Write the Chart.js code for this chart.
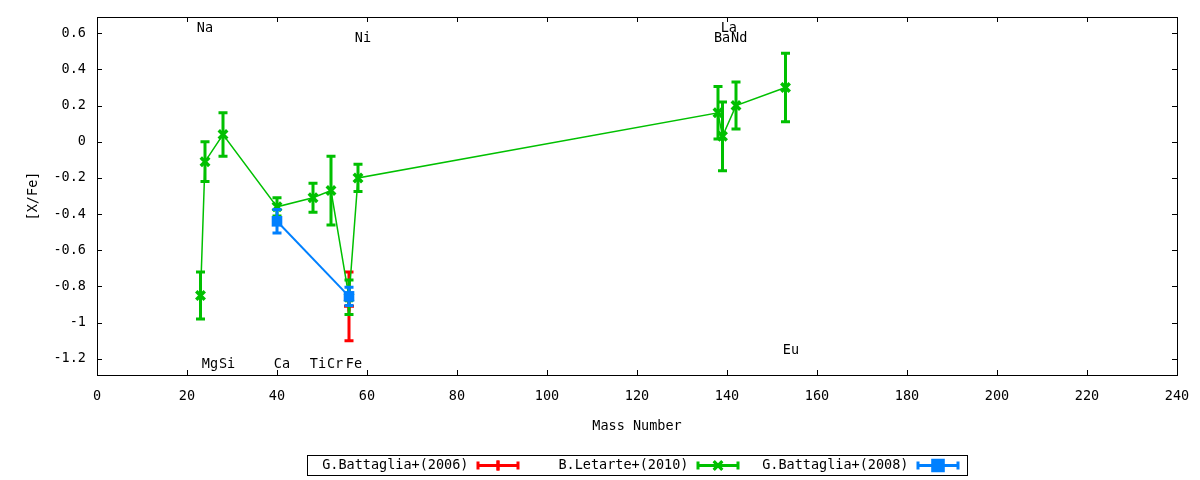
<!DOCTYPE html>
<html>
<head>
<meta charset="utf-8">
<script src="https://cdn.jsdelivr.net/npm/chart.js@4/dist/chart.umd.min.js"></script>
<style>
  html, body { margin: 0; background: #fff; }
  #wrap { width: 1200px; height: 480px; }
</style>
</head>
<body>
<div id="wrap"><canvas id="G1"></canvas></div>
<script>
// G.Battaglia+(2006)
const battaglia06Mass = [56];
const battaglia06XFe  = [-0.91];
const battaglia06Err  = [0.19];

// B.Letarte+(2010)
const letarteMass = [23, 24, 28, 40, 48, 52, 56, 58, 138, 139, 142, 153];
const letarteXFe  = [-0.85, -0.11, 0.04, -0.36, -0.31, -0.27, -0.86, -0.20, 0.16, 0.03, 0.20, 0.30];
const letarteErr  = [0.13, 0.11, 0.12, 0.05, 0.08, 0.19, 0.095, 0.075, 0.145, 0.19, 0.13, 0.19];

// G.Battaglia+(2008)
const battaglia08Mass = [40, 56];
const battaglia08XFe  = [-0.44, -0.855];
const battaglia08Err  = [0.065, 0.05];

// element names written on the plot (data coordinates)
const elementNames  = ['Na', 'Mg', 'Si', 'Ca', 'Ti', 'Cr', 'Fe', 'Ni', 'Ba', 'La', 'Nd', 'Eu'];
const elementLabelX = [24, 25.1, 28.9, 41.1, 49.1, 52.9, 57.1, 59.1, 138.9, 140.4, 142.7, 154.2];
const elementLabelY = [0.624, -1.233, -1.233, -1.233, -1.233, -1.233, -1.233, 0.569, 0.569, 0.624, 0.569, -1.155];

const xTicks = [0, 20, 40, 60, 80, 100, 120, 140, 160, 180, 200, 220, 240];
const yTicks = [-1.2, -1, -0.8, -0.6, -0.4, -0.2, 0, 0.2, 0.4, 0.6];

const FONT = '"DejaVu Sans Mono", monospace';
const RED = '#ff0000', GREEN = '#00c000', BLUE = '#0080ff';

const pts = (xs, ys) => xs.map((x, i) => ({ x: x, y: ys[i] }));
const errors = [battaglia06Err, letarteErr, battaglia08Err];

// error bars, drawn just before each dataset so stacking order is kept
const errorBars = {
  id: 'errorBars',
  beforeDatasetDraw(chart, args) {
    const ctx = chart.ctx;
    const ds = chart.data.datasets[args.index];
    const err = errors[args.index];
    const ys = chart.scales.y;
    const xs = chart.scales.x;
    ctx.save();
    ctx.strokeStyle = ds.borderColor;
    ctx.lineWidth = 3;
    ds.data.forEach((p, i) => {
      const px = xs.getPixelForValue(p.x);
      const top = ys.getPixelForValue(p.y + err[i]);
      const bot = ys.getPixelForValue(p.y - err[i]);
      ctx.beginPath();
      ctx.moveTo(px, top); ctx.lineTo(px, bot);
      ctx.moveTo(px - 4.5, top); ctx.lineTo(px + 4.5, top);
      ctx.moveTo(px - 4.5, bot); ctx.lineTo(px + 4.5, bot);
      ctx.stroke();
    });
    ctx.restore();
  }
};

// frame, inward ticks on all four sides, element labels and key
const decorations = {
  id: 'decorations',
  afterDraw(chart) {
    const ctx = chart.ctx;
    const a = chart.chartArea;
    const xs = chart.scales.x, ys = chart.scales.y;
    ctx.save();
    ctx.strokeStyle = '#000';
    ctx.lineWidth = 1;
    ctx.beginPath();
    xs.ticks.forEach(t => {
      const px = Math.round(xs.getPixelForValue(t.value)) + 0.5;
      ctx.moveTo(px, a.bottom); ctx.lineTo(px, a.bottom - 5);
      ctx.moveTo(px, a.top); ctx.lineTo(px, a.top + 5);
    });
    ys.ticks.forEach(t => {
      const py = Math.round(ys.getPixelForValue(t.value)) + 0.5;
      ctx.moveTo(a.left, py); ctx.lineTo(a.left + 5, py);
      ctx.moveTo(a.right, py); ctx.lineTo(a.right - 5, py);
    });
    ctx.stroke();
    ctx.strokeRect(Math.round(a.left) + 0.5, Math.round(a.top) + 0.5,
                   Math.round(a.right - a.left), Math.round(a.bottom - a.top));

    ctx.fillStyle = '#000';
    ctx.font = '13.5px ' + FONT;
    ctx.textAlign = 'center';
    ctx.textBaseline = 'middle';
    elementNames.forEach((name, i) => {
      ctx.fillText(name, xs.getPixelForValue(elementLabelX[i]), ys.getPixelForValue(elementLabelY[i]));
    });

    // key box under the plot
    const cx = (a.left + a.right) / 2;
    const boxL = Math.round(cx - 330) + 0.5, boxT = 455.5;
    ctx.strokeRect(boxL, boxT, 660, 20);
    const cy = boxT + 10;
    chart.data.datasets.forEach((ds, i) => {
      const sx = boxL + 169 + 220 * i;
      ctx.fillStyle = '#000';
      ctx.textAlign = 'right';
      ctx.fillText(ds.label, sx - 8, cy);
      ctx.strokeStyle = ds.borderColor;
      ctx.lineWidth = 3;
      ctx.beginPath();
      ctx.moveTo(sx, cy); ctx.lineTo(sx + 43, cy);
      ctx.moveTo(sx + 1.5, cy - 4); ctx.lineTo(sx + 1.5, cy + 4);
      ctx.moveTo(sx + 41.5, cy - 4); ctx.lineTo(sx + 41.5, cy + 4);
      ctx.stroke();
      Chart.helpers.drawPoint(ctx, {
        pointStyle: ds.pointStyle, radius: ds.pointRadius,
        borderWidth: ds.pointBorderWidth, rotation: 0
      }, sx + 21.5, cy);
      ctx.fillStyle = ds.borderColor;
      if (ds.pointStyle === 'rect') ctx.fill();
      ctx.stroke();
    });
    ctx.restore();
  }
};

new Chart(document.getElementById('G1'), {
  type: 'line',
  data: {
    datasets: [
      {
        label: 'G.Battaglia+(2006)',
        data: pts(battaglia06Mass, battaglia06XFe),
        borderColor: RED, backgroundColor: RED,
        borderWidth: 1.5, pointStyle: 'cross', pointRadius: 5, pointBorderWidth: 3,
        order: 3
      },
      {
        label: 'B.Letarte+(2010)',
        data: pts(letarteMass, letarteXFe),
        borderColor: GREEN, backgroundColor: GREEN,
        borderWidth: 1.5, pointStyle: 'crossRot', pointRadius: 6, pointBorderWidth: 3.5,
        order: 2
      },
      {
        label: 'G.Battaglia+(2008)',
        data: pts(battaglia08Mass, battaglia08XFe),
        borderColor: BLUE, backgroundColor: BLUE,
        borderWidth: 2, pointStyle: 'rect', pointRadius: 7.5, pointBorderWidth: 0,
        order: 1
      }
    ]
  },
  options: {
    responsive: true,
    maintainAspectRatio: false,
    animation: false,
    devicePixelRatio: 1,
    layout: { padding: { left: 25, top: 17, right: 23, bottom: 45 } },
    plugins: { legend: { display: false }, tooltip: { enabled: false } },
    scales: {
      x: {
        type: 'linear', min: 0, max: 240,
        afterBuildTicks: s => { s.ticks = xTicks.map(v => ({ value: v })); },
        afterFit: s => { s.height = 60; s.paddingLeft = 0; s.paddingRight = 0; },
        grid: { display: false, drawTicks: false },
        border: { display: false },
        ticks: { color: '#000', padding: 13, font: { family: FONT, size: 13.5 } },
        title: { display: true, text: 'Mass Number', color: '#000', padding: 0,
                 font: { family: FONT, size: 13.5 } }
      },
      y: {
        type: 'linear', min: -1.29, max: 0.69,
        afterBuildTicks: s => { s.ticks = yTicks.map(v => ({ value: v })); },
        afterFit: s => { s.width = 72; s.paddingTop = 0; s.paddingBottom = 0; },
        grid: { display: false, drawTicks: false },
        border: { display: false },
        ticks: { color: '#000', padding: 11, font: { family: FONT, size: 13.5 },
                 callback: v => String(Number(v.toFixed(1))) },
        title: { display: true, text: '[X/Fe]', color: '#000', padding: 0,
                 font: { family: FONT, size: 13.5 } }
      }
    }
  },
  plugins: [errorBars, decorations]
});
</script>
</body>
</html>
